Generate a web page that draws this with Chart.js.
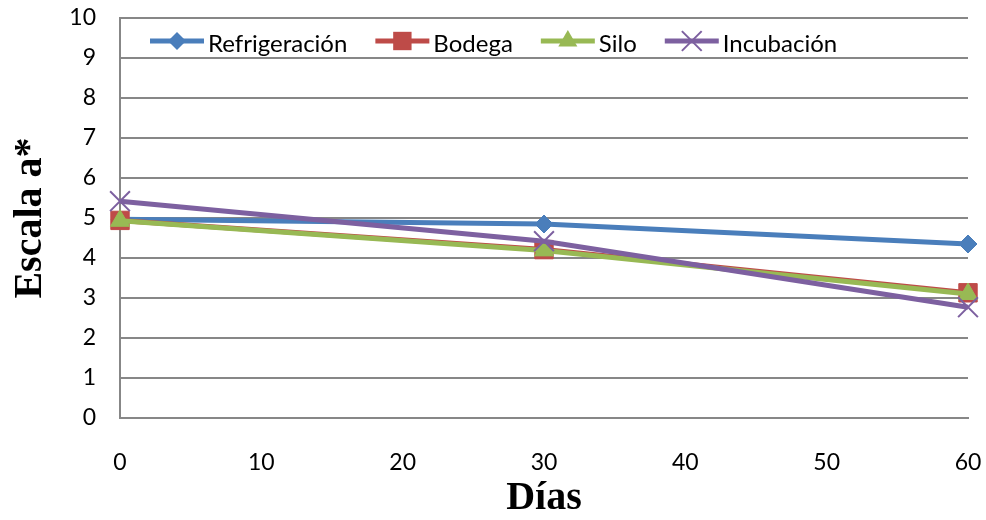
<!DOCTYPE html>
<html>
<head>
<meta charset="utf-8">
<script src="https://cdn.jsdelivr.net/npm/chart.js@4/dist/chart.umd.min.js"></script>
<style>
  body { margin: 0; background: #fff; }
  canvas { display: block; }
</style>
</head>
<body>
<canvas id="grafico" width="986" height="520"></canvas>
<script>
// dias de almacenamiento
const dias = [0, 30, 60];
const series = ['Refrigeración', 'Bodega', 'Silo', 'Incubación'];

const refrigeracion = [4.97, 4.85, 4.35];
const bodega = [4.94, 4.21, 3.13];
const silo = [4.93, 4.19, 3.10];
const incubacion = [5.42, 4.42, 2.77];

const colores = ['#4A7EBB', '#BE4B48', '#98B954', '#7D60A0'];
const marcas = ['rectRot', 'rect', 'triangle', 'crossRot'];
const radios = [9, 13, 11, 14];

const valores = [refrigeracion, bodega, silo, incubacion];
const fuente = 'Lato, "Noto Sans", sans-serif';
const gris = '#878787';

function puntos(vals) {
    return vals.map((v, i) => ({ x: dias[i], y: v }));
}

const datasets = series.map((nombre, i) => ({
    label: nombre,
    data: puntos(valores[i]),
    borderColor: colores[i],
    backgroundColor: colores[i],
    borderWidth: 5,
    pointStyle: marcas[i],
    pointRadius: radios[i],
    pointBorderWidth: i == 3 ? 2 : 1,
    pointBackgroundColor: colores[i],
    pointBorderColor: colores[i],
    order: 4 - i,
    tension: 0,
    clip: false,
    fill: false
}));

// dibuja una marca igual que la del grafico
function marca(ctx, estilo, r, x, y) {
    ctx.beginPath();
    if (estilo == 'rectRot') {
        ctx.moveTo(x - r, y); ctx.lineTo(x, y - r); ctx.lineTo(x + r, y); ctx.lineTo(x, y + r);
        ctx.closePath(); ctx.fill();
    } else if (estilo == 'rect') {
        const s = Math.SQRT1_2 * r;
        ctx.rect(x - s, y - s, 2 * s, 2 * s); ctx.fill();
    } else if (estilo == 'triangle') {
        for (let k = 0; k < 3; k++) {
            const a = k * 2 * Math.PI / 3;
            const px = x + Math.sin(a) * r, py = y - Math.cos(a) * r;
            if (k == 0) ctx.moveTo(px, py); else ctx.lineTo(px, py);
        }
        ctx.closePath(); ctx.fill();
    } else {
        const s = Math.SQRT1_2 * r;
        ctx.lineWidth = 2;
        ctx.moveTo(x - s, y - s); ctx.lineTo(x + s, y + s);
        ctx.moveTo(x + s, y - s); ctx.lineTo(x - s, y + s);
        ctx.stroke();
    }
}

// leyenda dentro del area del grafico
const leyenda = {
    id: 'leyenda',
    afterDraw(chart) {
        const ctx = chart.ctx;
        let x = chart.chartArea.left + 30;
        const y = chart.chartArea.top + 23;
        ctx.save();
        ctx.font = '24px ' + fuente;
        ctx.textBaseline = 'middle';
        series.forEach((nombre, i) => {
            ctx.strokeStyle = colores[i];
            ctx.fillStyle = colores[i];
            ctx.lineWidth = 5;
            ctx.beginPath();
            ctx.moveTo(x, y);
            ctx.lineTo(x + 54, y);
            ctx.stroke();
            marca(ctx, marcas[i], radios[i], x + 27, y);
            ctx.fillStyle = '#000';
            ctx.fillText(nombre, x + 58, y + 3);
            x += 58 + ctx.measureText(nombre).width + 28;
        });
        ctx.restore();
    }
};

const ctx = document.getElementById('grafico').getContext('2d');
new Chart(ctx, {
    type: 'line',
    data: { datasets: datasets },
    plugins: [leyenda],
    options: {
        responsive: false,
        animation: false,
        layout: { padding: 0 },
        plugins: {
            legend: { display: false },
            tooltip: { enabled: false }
        },
        scales: {
            x: {
                type: 'linear',
                min: 0,
                max: 60,
                ticks: { stepSize: 10, padding: 31, color: '#000', font: { family: fuente, size: 23 } },
                grid: { display: false, drawTicks: false },
                border: { display: true, color: gris, width: 2 },
                title: {
                    display: true,
                    text: 'Días',
                    color: '#000',
                    font: { family: '"Liberation Serif", "Times New Roman", serif', size: 40, weight: 'bold', lineHeight: 1 },
                    padding: { top: 0, bottom: 1 }
                },
                afterFit: scale => {
                    scale.height = 102;
                    scale.paddingLeft = 0;
                    scale.paddingRight = 18;
                }
            },
            y: {
                min: 0,
                max: 10,
                ticks: { stepSize: 1, padding: 24, color: '#000', font: { family: fuente, size: 23 } },
                grid: { color: gris, lineWidth: 2, drawTicks: false },
                border: { display: true, color: gris, width: 2 },
                title: {
                    display: true,
                    text: 'Escala a*',
                    color: '#000',
                    font: { family: '"Liberation Serif", "Times New Roman", serif', size: 40, weight: 'bold', lineHeight: 1 },
                    padding: { top: 11, bottom: 0 }
                },
                afterFit: scale => {
                    scale.width = 120;
                    scale.paddingTop = 18;
                    scale.paddingBottom = 0;
                }
            }
        }
    }
});
</script>
</body>
</html>
